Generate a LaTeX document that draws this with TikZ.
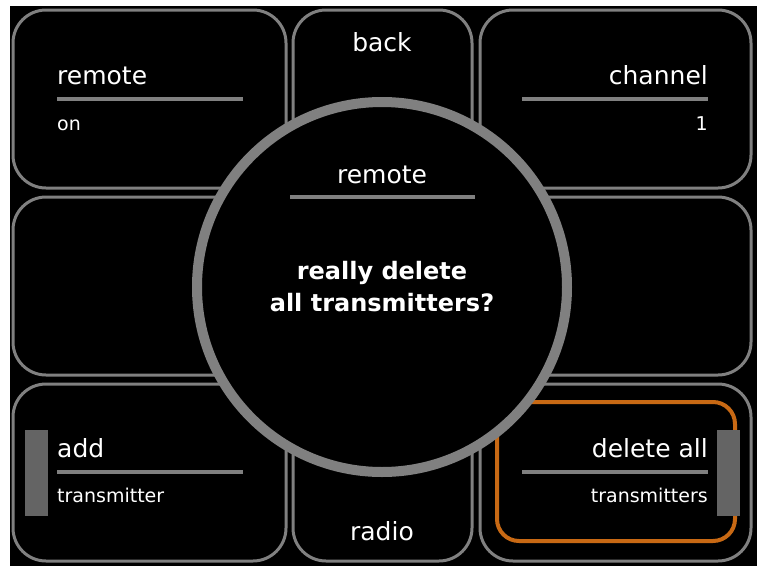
\documentclass[tikz,border=0pt]{standalone}
\usepackage{fontspec}
\setmainfont{DejaVu Sans}
\definecolor{tilegray}{RGB}{128,128,128}
\definecolor{bargray}{RGB}{100,100,100}
\definecolor{selorange}{RGB}{200,105,20}
\tikzset{
    tile/.style={draw=tilegray, line width=3pt, rounded corners=33pt, fill=black},
    big label/.style={font=\fontsize{25}{28}\selectfont, text=white, inner sep=0pt},
    small label/.style={font=\fontsize{19}{22}\selectfont, text=white, inner sep=0pt},
    rule/.style={draw=tilegray, line width=4pt}
}
\begin{document}
\begin{tikzpicture}[x=1pt, y=-1pt]

    % Hintergrund
    \fill[white] (0,0) rectangle (761,568);
    \fill[black] (10,6) rectangle (757,566);
    \useasboundingbox (0,0) rectangle (761,568);

    % Kacheln
    \foreach \ya/\yb in {10/188, 197/375, 384/561} {
        \draw[tile] (13,\ya) rectangle (286,\yb);
        \draw[tile] (293,\ya) rectangle (472,\yb);
        \draw[tile] (480,\ya) rectangle (751,\yb);
    }

    % Auswahlrahmen
    \draw[selorange, line width=4pt, rounded corners=22pt] (497,402) rectangle (735,541);

    % Kreis
    \draw[tilegray, line width=10pt, fill=black] (382,287) circle (185);

    % Texte
    \node[big label] (back) at (382,42) {back};
    \node[big label] (radio) at (382,531) {radio};

    \node[big label, anchor=base west] (remote) at (57,84) {remote};
    \node[small label, anchor=base west] (on) at (57,130) {on};
    \node[big label, anchor=base east] (channel) at (708,84) {channel};
    \node[small label, anchor=base east] (one) at (708,130) {1};

    \node[big label, anchor=base west] (add) at (57,457) {add};
    \node[small label, anchor=base west] (transmitter) at (57,502) {transmitter};
    \node[big label, anchor=base east] (deleteall) at (708,457) {delete all};
    \node[small label, anchor=base east] (transmitters) at (708,502) {transmitters};

    \node[big label] (title) at (382,175) {remote};
    \node[big label, font=\fontsize{24}{32}\selectfont\bfseries, align=center] (question) at (382,287)
        {really delete\\all transmitters?};

    % Linien
    \draw[rule] (57,99) -- (243,99);
    \draw[rule] (522,99) -- (708,99);
    \draw[rule] (57,472) -- (243,472);
    \draw[rule] (522,472) -- (708,472);
    \draw[rule] (290,197) -- (475,197);

    % Balken
    \fill[bargray] (25,430) rectangle (48,516);
    \fill[bargray] (717,430) rectangle (740,516);

\end{tikzpicture}
\end{document}
